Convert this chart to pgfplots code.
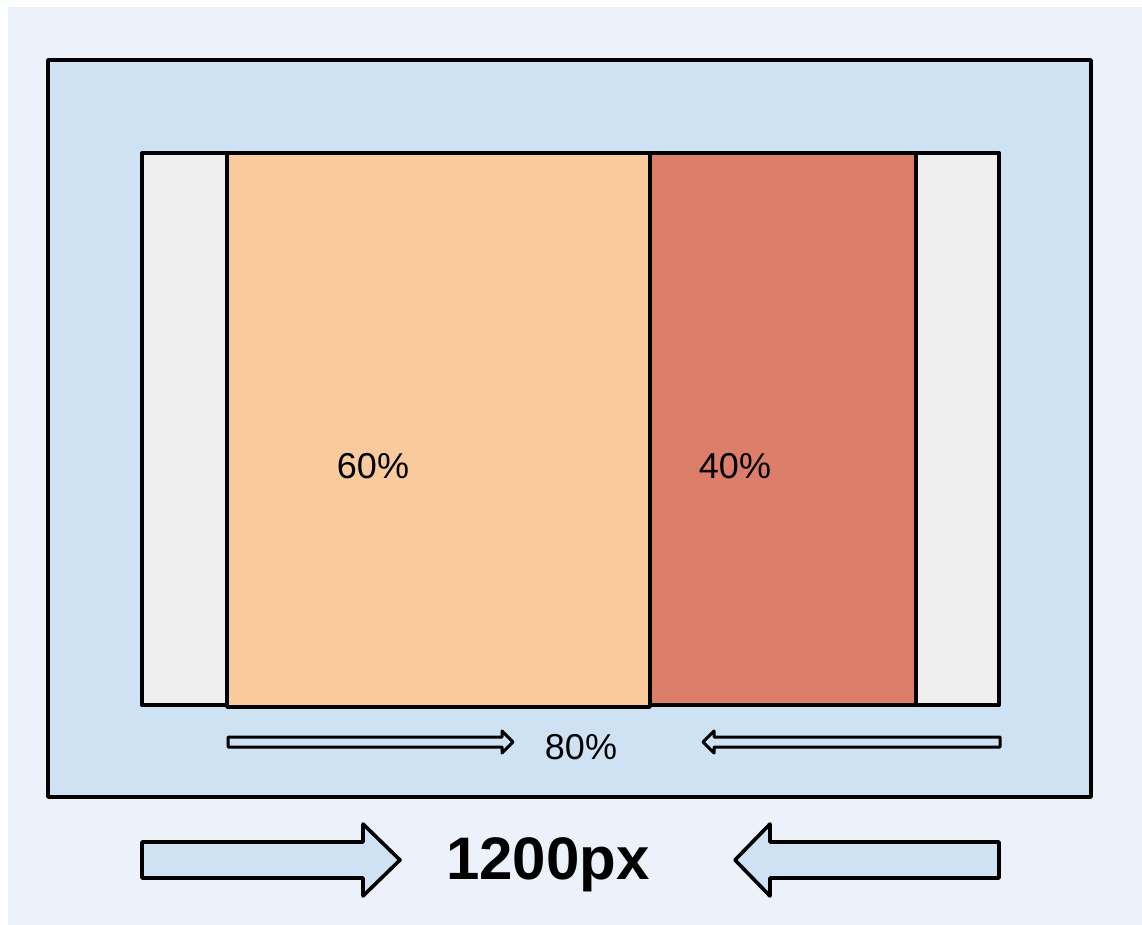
\documentclass[border=0pt]{standalone}
\usepackage{pgfplots}
\pgfplotsset{compat=1.18}
\usepackage{fontspec}
\setmainfont{Liberation Sans}
\definecolor{bgc}{HTML}{EDF2FA}
\definecolor{bluec}{HTML}{CFE2F3}
\definecolor{grayc}{HTML}{EFEFEF}
\definecolor{orangec}{HTML}{F9CB9C}
\definecolor{redc}{HTML}{DD7E6B}
\begin{document}
\begin{tikzpicture}
\begin{axis}[
  x=0.5pt, y=0.5pt, y dir=reverse,
  xmin=0, xmax=1142, ymin=0, ymax=925,
  scale only axis, hide axis, clip=false,
  line join=round,
]
% page and background
\addplot[fill=white, draw=none] coordinates {(0,0)(1142,0)(1142,925)(0,925)} -- cycle;
\addplot[fill=bgc, draw=none] coordinates {(8,7)(1142,7)(1142,925)(8,925)} -- cycle;
% outer blue box
\addplot[fill=bluec, draw=black, line width=1.9pt] coordinates {(48,60)(1091,60)(1091,797)(48,797)} -- cycle;
% inner frame (gray)
\addplot[fill=grayc, draw=black, line width=2pt] coordinates {(142,153)(999,153)(999,705)(142,705)} -- cycle;
% orange 60%
\addplot[fill=orangec, draw=black, line width=1.8pt] coordinates {(227,153)(650,153)(650,707)(227,707)} -- cycle;
% red 40%
\addplot[fill=redc, draw=black, line width=1.8pt] coordinates {(650,153)(916,153)(916,705)(650,705)} -- cycle;
% small arrows
\addplot[fill=bluec, draw=black, line width=1.5pt] coordinates {(228,737)(502,737)(502,731)(513,742)(502,753)(502,747)(228,747)} -- cycle;
\addplot[fill=bluec, draw=black, line width=1.5pt] coordinates {(1000,737)(714,737)(714,731)(703,742)(714,753)(714,747)(1000,747)} -- cycle;
% big arrows
\addplot[fill=bluec, draw=black, line width=1.8pt] coordinates {(142,842)(363,842)(363,824)(400,860)(363,896)(363,878)(142,878)} -- cycle;
\addplot[fill=bluec, draw=black, line width=1.8pt] coordinates {(999,842)(770,842)(770,824)(735,860)(770,896)(770,878)(999,878)} -- cycle;
% labels
\node[anchor=base, font=\fontsize{18}{20}\selectfont] at (axis cs:373,479) {60\%};
\node[anchor=base, font=\fontsize{18}{20}\selectfont] at (axis cs:735,479) {40\%};
\node[anchor=base, font=\fontsize{18}{20}\selectfont] at (axis cs:581,759) {80\%};
\node[anchor=base, font=\fontsize{30}{32}\selectfont\bfseries] at (axis cs:548,879) {1200px};
\end{axis}
\pgfresetboundingbox
\path[use as bounding box] (current axis.south west) rectangle (current axis.north east);
\end{tikzpicture}
\end{document}
